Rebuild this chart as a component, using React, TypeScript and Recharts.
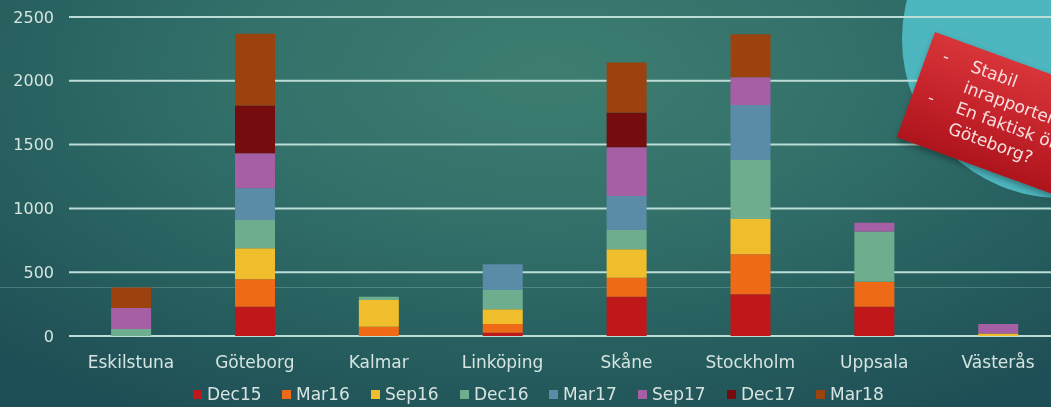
import React from 'react';
import { BarChart, Bar, XAxis, YAxis, CartesianGrid, Legend } from 'recharts';

const categories = ['Eskilstuna', 'Göteborg', 'Kalmar', 'Linköping', 'Skåne', 'Stockholm', 'Uppsala', 'Västerås'];

const dec15 = [0, 230, 0, 26, 308, 327, 230, 0];
const mar16 = [0, 214, 73, 68, 149, 313, 196, 0];
const sep16 = [0, 243, 209, 115, 223, 277, 0, 20];
const dec16 = [55, 222, 26, 152, 151, 463, 392, 0];
const mar17 = [0, 249, 0, 201, 267, 431, 0, 0];
const sep17 = [165, 274, 0, 0, 381, 217, 70, 74];
const dec17 = [0, 374, 0, 0, 272, 0, 0, 0];
const mar18 = [160, 562, 0, 0, 392, 337, 0, 0];

const yTicks = [0, 500, 1000, 1500, 2000, 2500];

const series = [
  { key: 'Dec15', values: dec15, color: '#c0171b' },
  { key: 'Mar16', values: mar16, color: '#ee6a17' },
  { key: 'Sep16', values: sep16, color: '#f0bd2c' },
  { key: 'Dec16', values: dec16, color: '#6eae8e' },
  { key: 'Mar17', values: mar17, color: '#5a8ca8' },
  { key: 'Sep17', values: sep17, color: '#a65fa4' },
  { key: 'Dec17', values: dec17, color: '#750c0d' },
  { key: 'Mar18', values: mar18, color: '#9b420f' },
];

const data = categories.map((name, i) => {
  const row: any = { name };
  series.forEach((s) => {
    row[s.key] = s.values[i];
  });
  return row;
});

const textColor = '#d6e4e1';
const font = '"DejaVu Sans", sans-serif';

// keep the legend in series order (recharts sorts it by name otherwise)
function LegendContent() {
  return (
    <div style={{ display: 'flex', alignItems: 'center', fontFamily: font, fontSize: 17, color: textColor, lineHeight: '20px' }}>
      {series.map((s) => (
        <div key={s.key} style={{ display: 'flex', alignItems: 'center', marginRight: 20 }}>
          <span style={{ width: 9, height: 9, background: s.color, marginRight: 5, display: 'inline-block' }} />
          <span style={{ width: 55, display: 'inline-block' }}>{s.key}</span>
        </div>
      ))}
    </div>
  );
}

export default function App() {
  return (
    <div
      style={{
        position: 'fixed',
        top: 0,
        left: 0,
        width: 1051,
        height: 407,
        overflow: 'hidden',
        background: 'radial-gradient(ellipse 75% 95% at 52% 18%, #3e7e70 0%, #33706a 40%, #27605f 70%, #1f4f56 100%)',
      }}
    >
      {/* faint band from the slide template */}
      <div style={{ position: 'absolute', left: 0, top: 287, width: 1051, height: 1, background: 'rgba(190,225,215,0.25)' }} />
      {/* decorative circle */}
      <div
        style={{
          position: 'absolute',
          left: 902,
          top: -120,
          width: 318,
          height: 318,
          borderRadius: '50%',
          background: '#4db6bf',
        }}
      />
      <div style={{ position: 'absolute', left: 0, top: 0 }}>
        <BarChart
          width={1075}
          height={407}
          data={data}
          margin={{ top: 17, right: 15, bottom: 41, left: 8 }}
          barCategoryGap="34%"
        >
          <CartesianGrid vertical={false} stroke="#bcdcd6" strokeWidth={2} />
          <XAxis
            dataKey="name"
            axisLine={false}
            tickLine={false}
            height={30}
            tickMargin={14}
            interval={0}
            tick={{ fill: textColor, fontSize: 17, fontFamily: font }}
          />
          <YAxis
            width={61}
            domain={[0, 2500]}
            ticks={yTicks}
            axisLine={false}
            tickLine={false}
            tickMargin={9}
            tick={{ fill: textColor, fontSize: 16, fontFamily: font }}
          />
          <Legend
            layout="horizontal"
            verticalAlign="middle"
            align="center"
            content={<LegendContent />}
            wrapperStyle={{ position: 'absolute', top: 384, left: 193, width: 760 }}
          />
          {series.map((s) => (
            <Bar key={s.key} dataKey={s.key} stackId="a" fill={s.color} isAnimationActive={false} />
          ))}
        </BarChart>
      </div>
      {/* red note box */}
      <div
        style={{
          position: 'absolute',
          left: 935,
          top: 32,
          width: 230,
          height: 112,
          transform: 'rotate(20deg)',
          transformOrigin: '0 0',
          background: 'linear-gradient(180deg, #d8353a 0%, #c4222a 55%, #ae141c 100%)',
          boxShadow: '2px 3px 6px rgba(0,0,0,0.35)',
          color: '#f7dede',
          fontFamily: font,
          fontSize: 17,
          lineHeight: '22px',
          padding: '8px 0 0 0',
          boxSizing: 'border-box',
          whiteSpace: 'nowrap',
        }}
      >
        <div style={{ display: 'flex' }}>
          <span style={{ width: 46, paddingLeft: 16, boxSizing: 'border-box' }}>-</span>
          <span>Stabil<br />inrapportering</span>
        </div>
        <div style={{ display: 'flex' }}>
          <span style={{ width: 46, paddingLeft: 16, boxSizing: 'border-box' }}>-</span>
          <span>En faktisk ökning<br />Göteborg?</span>
        </div>
      </div>
    </div>
  );
}
